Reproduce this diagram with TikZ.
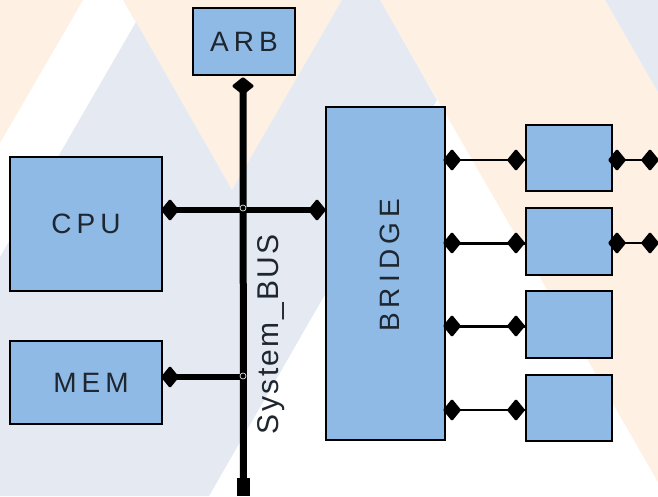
\documentclass[tikz,border=0pt]{standalone}
\usepackage{graphicx}
\usepackage{fontspec}
\setmainfont{Liberation Sans}
\newfontfamily\lblfont{Liberation Sans}[LetterSpace=18]
\newfontfamily\busfont{Liberation Sans}[LetterSpace=8]
\definecolor{bgor}{HTML}{FFF0E4}
\definecolor{bgbl}{HTML}{E5EAF2}
\definecolor{boxbl}{HTML}{8FBAE5}
\definecolor{txt}{HTML}{1E2630}
\begin{document}
\begin{tikzpicture}[x=1pt,y=-1pt,
  blk/.style={draw=black, line width=2pt, fill=boxbl, inner sep=0pt, outer sep=0pt,
              text=txt, font=\lblfont\fontsize{28}{30}\selectfont},
  dmd/.pic={\filldraw[line width=3pt, line join=round] (-7.2pt,0pt) -- (0pt,-8.8pt) -- (7.2pt,0pt) -- (0pt,8.8pt) -- cycle;},
  dmdv/.pic={\filldraw[line width=3pt, line join=round] (-9pt,0pt) -- (0pt,-7.2pt) -- (9pt,0pt) -- (0pt,7.2pt) -- cycle;},
  busline/.style={line width=7pt},
  hbusline/.style={line width=6.5pt},
  link/.style={line width=2.2pt},
  linkb/.style={line width=3pt},
  ring/.style={draw=white, line width=0.6pt},
]
\useasboundingbox (0,0) rectangle (658,496);
% background
\fill[white] (0,0) rectangle (658,496);
\fill[bgor] (0,0) -- (83,0) -- (0,143) -- cycle;
\fill[bgor] (123,0) -- (342,0) -- (232,190) -- cycle;
\fill[bgor] (380,0) -- (605,0) -- (658,92) -- (658,482) -- cycle;
\fill[bgbl] (0,496) -- (0,257) -- (136,22) -- (232,190) -- (342,0) -- (380,0) -- (437,100) -- (209,496) -- cycle;
\fill[bgbl] (605,0) -- (658,0) -- (658,92) -- cycle;

% blocks
\node[blk, minimum width=102pt, minimum height=67pt] (arb) at (244,41.5) {ARB};
\node[blk, minimum width=152pt, minimum height=134pt] (cpu) at (86,224) {CPU};
\node[blk, minimum width=152pt, minimum height=83pt] (mem) at (86,382.5) {\hspace{10pt}MEM};
\node[blk, minimum width=119pt, minimum height=333pt] (bridge) at (385.5,273.5) {\hspace{8pt}\rotatebox{90}{\hspace{16pt}BRIDGE}};
\node[blk, minimum width=86pt, minimum height=66pt] (s1) at (569,158) {};
\node[blk, minimum width=86pt, minimum height=67pt] (s2) at (569,241.5) {};
\node[blk, minimum width=86pt, minimum height=67pt] (s3) at (569,324.5) {};
\node[blk, minimum width=86pt, minimum height=66pt] (s4) at (569,408) {};

% bus label
\node[rotate=90, text=txt, font=\busfont\fontsize{30}{32}\selectfont, inner sep=0pt] (buslbl) at (271,334) {System\_BUS};

% bus end points
\coordinate (da) at (243,86);
\coordinate (dc) at (170,210);
\coordinate (db) at (317,210);
\coordinate (dm) at (170,377);
\node[fill=black, inner sep=0pt, outer sep=0pt, minimum width=13pt, minimum height=18pt] (bend) at (243.5,487) {};

% system bus
\draw[busline] (da) -- (bend.center);
\draw[hbusline] (dc) -- (db);
\draw[hbusline] (dm) -- (dm -| da);
\pic at (da) {dmdv};
\pic at (dc) {dmd};
\pic at (db) {dmd};
\pic at (dm) {dmd};
\draw[ring] (dc -| da) ++(0,-2) circle (3);
\draw[ring] (dm -| da) ++(0,-1) circle (3);

% bridge links
\foreach \i/\yy/\st in {1/160/link, 2/243/linkb, 3/326/linkb, 4/410/link} {
  \coordinate (l\i) at (452,\yy);
  \coordinate (r\i) at (516,\yy);
  \draw[\st] (bridge.east |- l\i) -- (s\i.west |- r\i);
  \pic at (l\i) {dmd};
  \pic at (r\i) {dmd};
}
% outgoing links
\foreach \i/\yy in {1/160, 2/243} {
  \coordinate (o\i) at (617,\yy);
  \coordinate (e\i) at (650,\yy);
  \draw[link] (s\i.east |- o\i) -- (e\i);
  \pic at (o\i) {dmd};
  \pic at (e\i) {dmd};
}
\end{tikzpicture}
\end{document}
